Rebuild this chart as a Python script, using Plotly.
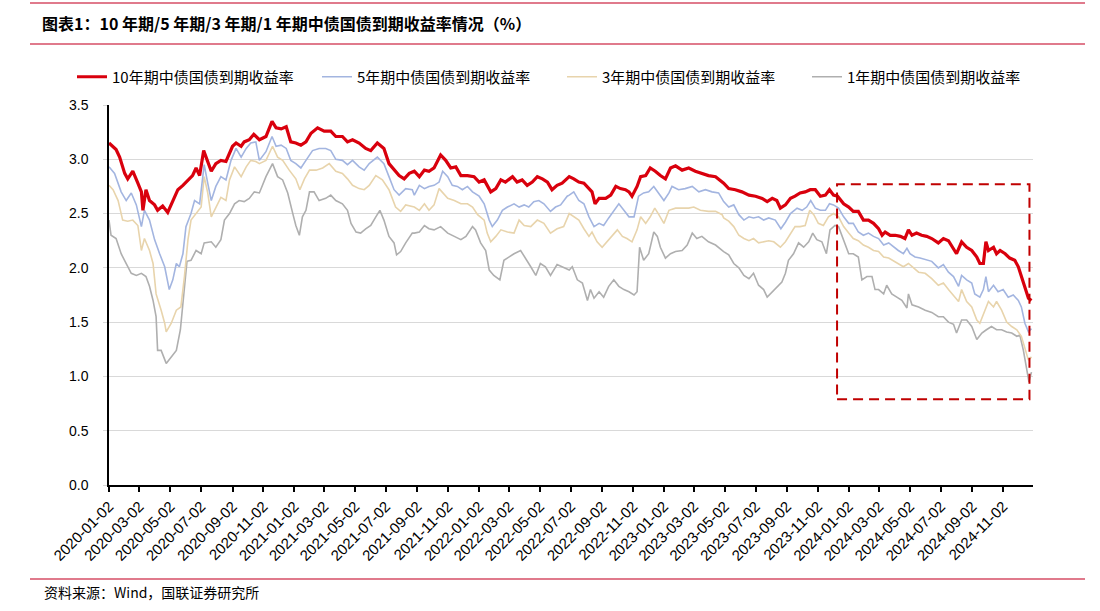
import pandas as pd
import plotly.graph_objects as go

BASE_DATE = "2020-01-02"

# ---- 10Y ----
days_10y = [0,14,21,31,37,47,57,64,67,73,80,90,96,106,116,126,136,146,156,165,172,179,187,192,202,211,221,231,244,251,261,267,277,286,294,
            297,310,322,330,340,350,359,369,379,389,399,412,425,438,448,461,471,481,494,507,517,530,543,553,563,573,583,593,
            603,613,623,632,642,650,655,665,675,685,695,708,721,731,741,754,764,774,783,797,806,816,826,836,846,856,866,875,885,895,
            909,918,928,938,948,954,960,968,981,991,1001,1010,1020,1027,1033,1043,1050,1060,1069,1079,1089,1099,1109,1119,1132,1145,1158,1171,1184,1198,1211,
            1214,1224,1237,1250,1264,1277,1290,1300,1310,1319,1326,1336,1346,1355,1365,1375,1385,1395,1405,1415,1423,1431,1439,1451,1461,1470,1480,1490,1500,1510,
            1520,1527,1533,1543,1553,1563,1572,1579,1586,1595,1605,1615,1625,1638,1648,1658,1668,1674,1684,1694,1704,1714,1720,1727,1732,1737,1747,1753,1760,1770,1779,1789,1796,1802,1809,1816,1822]
yield_10y = [3.15,3.09,3.02,2.87,2.82,2.89,2.78,2.70,2.53,2.72,2.62,2.58,2.53,2.57,2.51,2.62,2.72,2.76,2.81,2.85,2.92,2.85,3.08,3.02,2.89,2.96,2.99,2.98,3.12,3.15,3.12,3.16,3.18,3.23,3.19,
             3.18,3.21,3.35,3.29,3.28,3.30,3.16,3.15,3.13,3.16,3.24,3.29,3.26,3.26,3.21,3.21,3.16,3.18,3.15,3.10,3.08,3.15,3.10,2.96,2.90,2.85,2.82,2.87,
             2.89,2.84,2.90,2.89,2.92,2.99,3.04,2.99,2.92,2.93,2.85,2.85,2.84,2.79,2.81,2.70,2.73,2.81,2.79,2.84,2.79,2.81,2.76,2.79,2.84,2.82,2.79,2.72,2.76,2.78,
             2.84,2.82,2.79,2.78,2.73,2.70,2.59,2.64,2.64,2.67,2.75,2.73,2.72,2.70,2.66,2.75,2.84,2.85,2.92,2.89,2.85,2.82,2.92,2.94,2.90,2.92,2.89,2.87,2.85,2.84,2.79,
             2.78,2.73,2.72,2.70,2.67,2.66,2.64,2.61,2.64,2.62,2.55,2.58,2.64,2.66,2.69,2.70,2.72,2.72,2.66,2.67,2.72,2.67,2.66,2.59,2.56,2.52,2.52,2.44,2.44,2.41,
             2.36,2.30,2.33,2.30,2.30,2.29,2.27,2.35,2.30,2.32,2.30,2.29,2.27,2.23,2.27,2.25,2.18,2.13,2.24,2.19,2.16,2.10,2.04,2.04,2.24,2.16,2.19,2.13,2.16,2.13,2.09,2.07,2.01,1.92,1.80,1.72,1.70]

# ---- 5Y ----
days_5y = [0,11,24,34,44,54,64,70,80,90,100,110,119,126,133,139,146,152,162,169,179,188,195,202,211,221,231,241,251,261,271,280,290,
           297,310,322,330,340,350,359,369,379,389,402,415,428,438,448,461,471,481,494,504,514,530,543,553,563,573,586,599,
           603,613,623,632,642,652,659,669,678,688,698,708,718,731,741,751,757,767,777,787,800,810,820,829,839,849,859,872,882,892,905,
           909,918,928,938,948,958,968,977,987,997,1007,1017,1027,1037,1046,1056,1066,1076,1086,1096,1106,1112,1125,1138,1152,1165,1178,1191,1204,
           1214,1224,1234,1244,1254,1264,1273,1283,1293,1303,1316,1327,1336,1346,1359,1369,1378,1386,1395,1405,1415,1423,1431,1441,1451,1461,1470,1480,1490,1500,1510,
           1520,1530,1540,1550,1559,1569,1576,1582,1592,1602,1615,1625,1638,1648,1658,1668,1678,1684,1694,1704,1710,1720,1727,1732,1737,1747,1756,1766,1776,1786,1796,1802,1809,1816,1822]
yield_5y = [2.93,2.87,2.70,2.62,2.69,2.58,2.38,2.53,2.44,2.26,2.13,2.01,1.80,1.89,2.04,2.01,2.13,2.38,2.50,2.62,2.59,2.95,2.78,2.62,2.75,2.84,2.81,2.99,3.10,3.02,3.10,3.15,3.16,
            2.99,3.07,3.21,3.12,3.13,3.10,2.99,2.96,2.92,2.99,3.08,3.10,3.10,3.08,3.00,2.99,2.95,2.99,2.93,2.90,2.96,3.02,2.96,2.84,2.72,2.67,2.73,2.72,
            2.67,2.76,2.73,2.75,2.76,2.79,2.89,2.84,2.76,2.75,2.72,2.75,2.70,2.66,2.59,2.44,2.38,2.44,2.53,2.56,2.59,2.56,2.58,2.56,2.61,2.62,2.59,2.52,2.56,2.58,2.66,
            2.67,2.70,2.62,2.59,2.47,2.38,2.41,2.39,2.46,2.53,2.59,2.53,2.47,2.47,2.66,2.69,2.70,2.75,2.69,2.62,2.69,2.75,2.72,2.73,2.75,2.70,2.72,2.70,2.69,
            2.61,2.56,2.58,2.49,2.44,2.47,2.46,2.47,2.44,2.46,2.44,2.36,2.42,2.50,2.55,2.53,2.56,2.62,2.55,2.53,2.53,2.59,2.58,2.55,2.47,2.41,2.41,2.33,2.30,2.32,2.29,
            2.27,2.21,2.23,2.19,2.16,2.13,2.18,2.13,2.10,2.09,2.07,2.06,2.00,2.03,1.96,1.92,1.83,1.93,1.89,1.86,1.76,1.73,1.80,1.92,1.78,1.84,1.78,1.80,1.73,1.75,1.70,1.64,1.49,1.41,1.44]

# ---- 3Y ----
days_3y = [0,8,18,27,37,47,57,64,70,80,87,93,103,110,113,123,133,142,149,156,162,172,182,188,195,202,211,221,231,238,248,261,271,280,290,
           297,310,323,333,343,356,369,377,386,396,409,422,435,448,461,471,481,494,504,514,527,540,553,566,576,586,599,
           603,613,623,632,642,652,659,669,682,695,708,718,728,741,747,754,764,774,787,800,810,820,833,846,859,872,885,898,
           909,918,928,938,948,954,964,974,984,994,1004,1014,1023,1033,1043,1050,1060,1069,1078,1086,1096,1106,1119,1132,1145,1155,1168,1184,1198,1211,
           1214,1224,1234,1244,1254,1264,1273,1283,1293,1303,1313,1326,1336,1346,1355,1365,1375,1384,1392,1401,1411,1421,1431,1441,1451,1461,1470,1480,1490,1500,1510,
           1520,1530,1540,1550,1559,1569,1579,1589,1599,1612,1625,1638,1648,1658,1668,1678,1684,1694,1704,1714,1720,1727,1737,1747,1753,1763,1773,1783,1793,1802,1809,1816,1822]
yield_3y = [2.76,2.72,2.62,2.44,2.43,2.44,2.39,2.16,2.27,2.16,2.04,1.76,1.61,1.49,1.41,1.49,1.61,1.64,1.92,2.26,2.44,2.50,2.56,2.84,2.69,2.47,2.56,2.65,2.62,2.81,2.93,2.84,2.93,2.99,2.98,
            2.96,2.99,3.12,3.02,2.99,2.90,2.82,2.72,2.82,2.90,2.90,2.92,2.96,2.89,2.87,2.82,2.76,2.73,2.72,2.76,2.85,2.81,2.72,2.56,2.52,2.58,2.56,
            2.56,2.53,2.59,2.53,2.58,2.73,2.69,2.64,2.62,2.59,2.59,2.56,2.49,2.44,2.32,2.24,2.29,2.35,2.33,2.32,2.44,2.39,2.38,2.44,2.41,2.32,2.36,2.38,
            2.50,2.47,2.44,2.36,2.29,2.33,2.24,2.19,2.24,2.29,2.35,2.29,2.27,2.24,2.35,2.47,2.41,2.47,2.55,2.49,2.41,2.53,2.55,2.55,2.55,2.56,2.53,2.52,2.52,2.49,
            2.46,2.43,2.38,2.30,2.27,2.25,2.27,2.23,2.24,2.25,2.24,2.19,2.24,2.32,2.38,2.38,2.39,2.53,2.49,2.41,2.39,2.47,2.50,2.47,2.38,2.32,2.27,2.25,2.21,2.19,2.16,
            2.15,2.10,2.09,2.06,2.04,2.01,2.04,2.00,1.96,1.95,1.90,1.84,1.86,1.80,1.75,1.69,1.80,1.69,1.64,1.52,1.49,1.58,1.69,1.64,1.69,1.61,1.50,1.46,1.43,1.37,1.27,1.15,1.18]

# ---- 1Y ----
days_1y = [0,4,14,24,34,44,54,64,73,80,87,93,96,103,113,123,133,141,148,154,162,172,182,188,202,211,221,228,238,248,257,267,277,287,
           297,310,323,333,343,353,363,369,376,382,389,396,405,415,428,438,448,461,471,478,488,497,507,517,527,535,543,553,563,568,576,586,599,
           603,613,623,632,642,655,669,682,695,705,718,724,734,744,751,760,772,780,790,800,813,823,833,843,852,862,872,885,898,
           909,915,925,935,945,951,958,968,977,987,997,1007,1017,1027,1037,1043,1048,1056,1066,1076,1083,1089,1099,1109,1119,1132,1142,1152,1161,1171,1184,1198,1211,
           1214,1224,1234,1244,1254,1264,1273,1283,1293,1300,1310,1319,1329,1336,1342,1352,1362,1372,1382,1390,1398,1408,1417,1424,1434,1441,1451,1461,1470,1480,1487,1497,1507,1513,
           1520,1530,1536,1546,1556,1566,1576,1579,1586,1599,1612,1625,1638,1648,1658,1668,1674,1684,1694,1704,1714,1724,1733,1743,1753,1763,1773,1783,1793,1799,1806,1812,1817,1822]
yield_1y = [2.44,2.30,2.27,2.13,2.04,1.95,1.93,1.95,1.92,1.83,1.70,1.55,1.24,1.24,1.12,1.18,1.24,1.43,1.80,2.06,2.07,2.16,2.13,2.23,2.24,2.19,2.26,2.44,2.50,2.59,2.62,2.61,2.64,2.70,
            2.69,2.84,2.96,2.84,2.81,2.69,2.50,2.39,2.30,2.47,2.53,2.70,2.70,2.62,2.64,2.67,2.62,2.59,2.53,2.41,2.33,2.32,2.36,2.39,2.47,2.53,2.44,2.29,2.23,2.12,2.15,2.23,2.32,
            2.32,2.33,2.39,2.36,2.35,2.38,2.32,2.29,2.26,2.29,2.38,2.35,2.23,2.16,1.98,1.93,1.89,2.07,2.10,2.13,2.16,2.09,2.01,1.93,2.04,2.01,1.93,2.03,2.00,
            1.98,2.01,1.89,1.86,1.70,1.80,1.72,1.78,1.73,1.83,1.89,1.83,1.80,1.78,1.75,1.78,2.19,2.07,2.13,2.33,2.29,2.19,2.09,2.13,2.15,2.16,2.21,2.32,2.27,2.29,2.24,2.21,2.16,
            2.15,2.12,2.04,2.00,1.93,1.90,1.95,1.84,1.80,1.73,1.78,1.83,1.87,1.95,2.07,2.13,2.23,2.19,2.24,2.32,2.26,2.24,2.13,2.35,2.39,2.38,2.26,2.13,2.13,2.10,1.89,1.92,1.92,1.80,
            1.80,1.76,1.84,1.76,1.73,1.70,1.63,1.76,1.66,1.64,1.61,1.59,1.55,1.55,1.50,1.48,1.40,1.52,1.52,1.46,1.34,1.40,1.43,1.46,1.43,1.43,1.41,1.40,1.37,1.38,1.24,1.09,0.95,1.04]

series_names = ["10年期中债国债到期收益率", "5年期中债国债到期收益率", "3年期中债国债到期收益率", "1年期中债国债到期收益率"]
tick_dates = ["2020-01-02","2020-03-02","2020-05-02","2020-07-02","2020-09-02","2020-11-02",
              "2021-01-02","2021-03-02","2021-05-02","2021-07-02","2021-09-02","2021-11-02",
              "2022-01-02","2022-03-02","2022-05-02","2022-07-02","2022-09-02","2022-11-02",
              "2023-01-02","2023-03-02","2023-05-02","2023-07-02","2023-09-02","2023-11-02",
              "2024-01-02","2024-03-02","2024-05-02","2024-07-02","2024-09-02","2024-11-02"]
y_ticks = [0, 0.5, 1.0, 1.5, 2.0, 2.5, 3.0, 3.5]

base = pd.Timestamp(BASE_DATE)
def to_dates(days):
    return base + pd.to_timedelta(days, unit="D")

colors = ["#D9000D", "#A3B5E0", "#E8D4AC", "#AFAFAF"]
widths = [3.2, 1.6, 1.6, 1.6]
series = [(days_10y, yield_10y), (days_5y, yield_5y), (days_3y, yield_3y), (days_1y, yield_1y)]

fig = go.Figure()
# draw 1Y first so that 10Y sits on top; legend order reversed
for i in [3, 2, 1, 0]:
    d, v = series[i]
    fig.add_trace(go.Scatter(x=to_dates(d), y=v, mode="lines", name=series_names[i],
                             line=dict(color=colors[i], width=widths[i])))

cjk = "Noto Sans CJK SC"
lat = "Liberation Sans, Arial, sans-serif"

W, H = 1100, 611
L, R, T, B = 109, 67, 105, 126
pw, ph = W - L - R, H - T - B
def px(x):  # pixel x -> paper
    return (x - L) / pw
def py(y):  # pixel y -> paper
    return (H - B - y) / ph

line_col = "#E07A8C"
shapes = [
    dict(type="line", xref="paper", yref="paper", x0=px(30), x1=px(1085), y0=py(3), y1=py(3),
         line=dict(color=line_col, width=2)),
    dict(type="line", xref="paper", yref="paper", x0=px(30), x1=px(1085), y0=py(44), y1=py(44),
         line=dict(color=line_col, width=2)),
    dict(type="line", xref="paper", yref="paper", x0=px(30), x1=px(1085), y0=py(579), y1=py(579),
         line=dict(color=line_col, width=2)),
    dict(type="rect", xref="x", yref="y", x0="2023-12-10", x1="2024-12-24", y0=0.79, y1=2.77,
         line=dict(color="#C00000", width=2, dash="10px,6px"), fillcolor="rgba(0,0,0,0)", layer="above"),
]

fig.update_layout(
    template="none",
    width=W, height=H,
    margin=dict(l=L, r=R, t=T, b=B, pad=0, autoexpand=False),
    paper_bgcolor="white", plot_bgcolor="white",
    font=dict(family=cjk, size=14, color="#000000"),
    title=dict(text="<b>图表1：10 年期/5 年期/3 年期/1 年期中债国债到期收益率情况（%）</b>",
               x=42 / W, xanchor="left", xref="container",
               y=1 - 24 / H, yanchor="middle", yref="container",
               font=dict(family=cjk, size=16, color="#000000")),
    legend=dict(orientation="h", traceorder="reversed",
                x=px(72), xanchor="left", xref="paper",
                y=py(77), yanchor="middle", yref="paper",
                font=dict(family=cjk, size=15, color="#000000"),
                entrywidth=200, entrywidthmode="pixels",
                bgcolor="rgba(0,0,0,0)", borderwidth=0),
    showlegend=True,
    shapes=shapes,
    annotations=[dict(text="资料来源：Wind，国联证券研究所", xref="paper", yref="paper",
                      x=px(42), y=py(592), xanchor="left", yanchor="middle", showarrow=False,
                      font=dict(family=cjk, size=14, color="#000000"))],
    xaxis=dict(type="date", range=["2020-01-02", "2024-12-31"],
               tickvals=tick_dates, ticktext=tick_dates, tickangle=-45,
               tickfont=dict(family=lat, size=15, color="#000000"),
               ticks="outside", ticklen=5, tickwidth=1.5, tickcolor="#000000",
               showline=True, linecolor="#000000", linewidth=1.5,
               showgrid=False, zeroline=False, automargin=False),
    yaxis=dict(range=[0, 3.5], tickvals=y_ticks, tickformat=".1f",
               tickfont=dict(family=lat, size=14, color="#000000"),
               ticks="outside", ticklen=4, tickwidth=1, tickcolor="#D9D9D9",
               ticklabelstandoff=12,
               showline=True, linecolor="#000000", linewidth=1.5,
               showgrid=True, gridcolor="#D9D9D9", gridwidth=1,
               zeroline=False, automargin=False),
)

fig.write_html("out.html", config={"displayModeBar": False},
               post_script="document.body.style.margin='0';")
